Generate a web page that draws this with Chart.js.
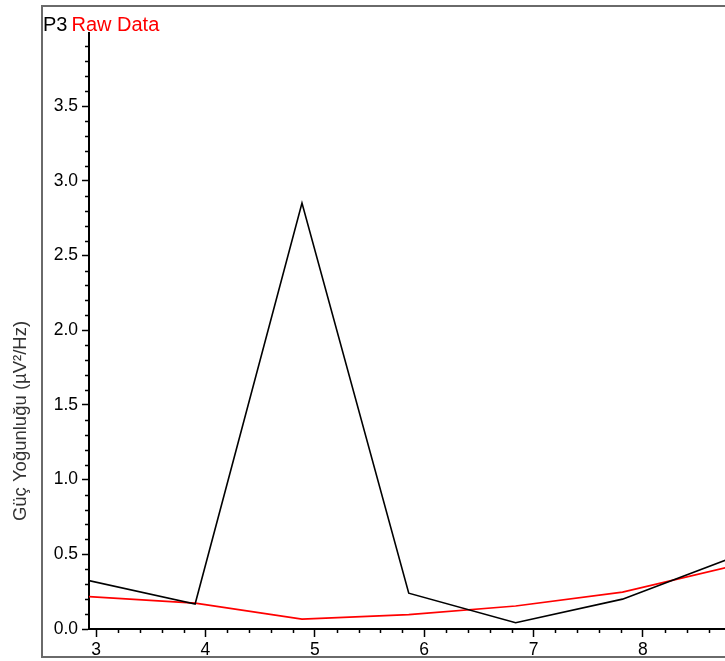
<!DOCTYPE html>
<html><head><meta charset="utf-8">
<script src="https://cdn.jsdelivr.net/npm/chart.js@4.4.0/dist/chart.umd.min.js"></script>
<style>html,body{margin:0;padding:0;background:#fff;}#wrap{width:725px;height:661px;position:relative;}</style>
</head><body><div id="wrap"><canvas id="c" width="725" height="661"></canvas></div>
<script>
const freqs = [2.930, 3.906, 4.883, 5.859, 6.836, 7.813, 8.789];
const p3Values = [0.325, 0.167, 2.852, 0.240, 0.042, 0.200, 0.470];
const rawValues = [0.217, 0.173, 0.066, 0.096, 0.154, 0.247, 0.416];
const xTicks = [3, 4, 5, 6, 7, 8];
const yTicks = [0.0, 0.5, 1.0, 1.5, 2.0, 2.5, 3.0, 3.5];
const titleParts = [{text: 'P3', color: '#000'}, {text: 'Raw Data', color: '#ff0000'}];
const yTitle = 'Güç Yoğunluğu (µV²/Hz)';
const FONT = '"Liberation Sans", Arial, sans-serif';

const decor = {
  id: 'decor',
  afterDraw(chart) {
    const ctx = chart.ctx;
    const xs = chart.scales.x, ys = chart.scales.y;
    const ca = chart.chartArea;
    ctx.save();
    // frame
    ctx.strokeStyle = '#6a6a6a';
    ctx.lineWidth = 2;
    ctx.strokeRect(42, 6, 700, 651);
    // minor ticks
    ctx.strokeStyle = '#000';
    ctx.lineWidth = 1.5;
    ctx.beginPath();
    for (let i = 1; i < 40; i++) {
      if (i % 5 === 0) continue;
      const py = Math.round(ys.getPixelForValue(i / 10)) + 0.5;
      if (py < ca.top) continue;
      ctx.moveTo(ca.left - 4, py); ctx.lineTo(ca.left, py);
    }
    for (let i = 15; i < 45; i++) {
      if (i % 5 === 0) continue;
      const px = Math.round(xs.getPixelForValue(i / 5)) + 0.5;
      if (px < ca.left || px > ca.right) continue;
      ctx.moveTo(px, ca.bottom); ctx.lineTo(px, ca.bottom + 4);
    }
    ctx.stroke();
    // title
    ctx.font = '20px ' + FONT;
    ctx.textBaseline = 'alphabetic';
    ctx.textAlign = 'left';
    let x = 43;
    titleParts.forEach(p => {
      ctx.fillStyle = p.color;
      ctx.fillText(p.text, x, 31);
      x += ctx.measureText(p.text).width + 4;
    });
    // y axis title
    ctx.translate(21, 421);
    ctx.rotate(-Math.PI / 2);
    ctx.font = '18.5px ' + FONT;
    ctx.fillStyle = '#333';
    ctx.textAlign = 'center';
    ctx.textBaseline = 'middle';
    ctx.fillText(yTitle, 0, 0);
    ctx.restore();
  }
};

new Chart(document.getElementById('c'), {
  type: 'line',
  data: {
    datasets: [
      {label: 'P3', data: freqs.map((f, i) => ({x: f, y: p3Values[i]})), borderColor: '#000', borderWidth: 1.6, pointRadius: 0, tension: 0},
      {label: 'Raw Data', data: freqs.map((f, i) => ({x: f, y: rawValues[i]})), borderColor: '#ff0000', borderWidth: 1.6, pointRadius: 0, tension: 0}
    ]
  },
  options: {
    responsive: false,
    animation: false,
    devicePixelRatio: 1,
    layout: {padding: {top: 33, right: 0, bottom: 0, left: 0}},
    plugins: {legend: {display: false}, tooltip: {enabled: false}, title: {display: false}},
    scales: {
      x: {
        type: 'linear', min: 2.936, max: 8.75,
        afterBuildTicks: s => { s.ticks = xTicks.map(v => ({value: v})); },
        afterFit: s => { s.height = 32; },
        grid: {drawOnChartArea: false, tickLength: 8, tickColor: '#000', tickWidth: 1.5},
        border: {display: true, color: '#000', width: 2},
        ticks: {color: '#000', font: {family: FONT, size: 17.5}, padding: 3, maxRotation: 0, callback: v => String(v)}
      },
      y: {
        type: 'linear', min: 0, max: 3.99,
        afterBuildTicks: s => { s.ticks = yTicks.map(v => ({value: v})); },
        afterFit: s => { s.width = 89; },
        grid: {drawOnChartArea: false, tickLength: 7, tickColor: '#000', tickWidth: 1.5},
        border: {display: true, color: '#000', width: 2},
        ticks: {color: '#000', font: {family: FONT, size: 17.5}, padding: 4, callback: v => v.toFixed(1)}
      }
    }
  },
  plugins: [decor]
});
</script></body></html>
